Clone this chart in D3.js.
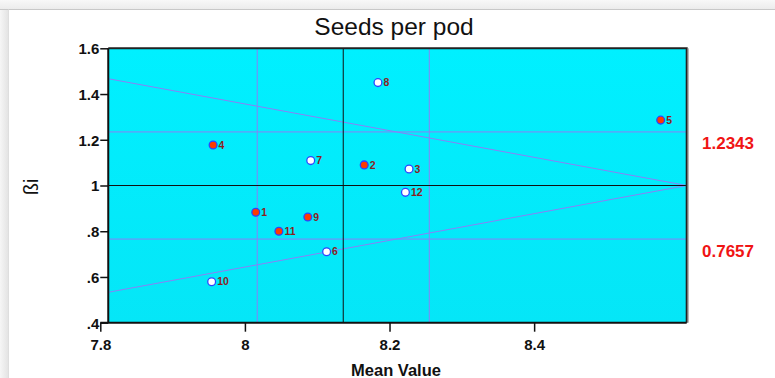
<!DOCTYPE html>
<html>
<head>
<meta charset="utf-8">
<script src="https://cdn.jsdelivr.net/npm/d3@7"></script>
<style>
  html, body { margin: 0; padding: 0; background: #fff; }
  svg { display: block; }
</style>
</head>
<body>
<svg id="chart" width="775" height="378"></svg>
<script>
// Stability plot: genotype mean vs regression coefficient (ßi)
const genotypes   = ["1", "2", "3", "4", "5", "6", "7", "8", "9", "10", "11", "12"];
const meanValues  = [8.015, 8.165, 8.227, 7.956, 8.575, 8.113, 8.091, 8.184, 8.087, 7.954, 8.047, 8.222];
const betaValues  = [0.883, 1.090, 1.072, 1.177, 1.286, 0.710, 1.109, 1.450, 0.862, 0.579, 0.800, 0.970];
const filledFlags = [true, true, false, true, true, false, false, false, true, false, true, false];

const xTicks = [7.8, 8, 8.2, 8.4];
const xTickLabels = ["7.8", "8", "8.2", "8.4"];
const yTicks = [0.4, 0.6, 0.8, 1, 1.2, 1.4, 1.6];
const yTickLabels = [".4", ".6", ".8", "1", "1.2", "1.4", "1.6"];

const fieldX = [7.811, 8.611];          // x extent of the shaded field
const fieldY = [0.4, 1.6];              // y extent of the shaded field
const grandMean = 8.136;
const meanLimits = [8.017, 8.255];
const betaUnit = 1;
const betaLimits = [1.2343, 0.7657];
const betaLimitLabels = ["1.2343", "0.7657"];
const fanLines = [
  [[7.811, 1.467], [8.611, 1.0]],
  [[7.811, 0.533], [8.611, 1.0]]
];

const titleText = "Seeds per pod";
const xTitle = "Mean Value";
const yTitle = "ßi";

const svg = d3.select("#chart");
const W = 775, H = 378;
const FONT = "Liberation Sans, Arial, sans-serif";

const x = d3.scaleLinear().domain([7.8, 8.611]).range([100.3, 686.7]);
const y = d3.scaleLinear().domain([0.4, 1.6]).range([322.7, 48.3]);

// window chrome: top bar and left shadow strip
const defs = svg.append("defs");
const gTop = defs.append("linearGradient").attr("id", "topbar").attr("x1", 0).attr("y1", 0).attr("x2", 0).attr("y2", 1);
gTop.append("stop").attr("offset", "0%").attr("stop-color", "#f8f8f8");
gTop.append("stop").attr("offset", "100%").attr("stop-color", "#ececec");
const gLeft = defs.append("linearGradient").attr("id", "leftbar").attr("x1", 0).attr("y1", 0).attr("x2", 1).attr("y2", 0);
gLeft.append("stop").attr("offset", "0%").attr("stop-color", "#f6f6f6");
gLeft.append("stop").attr("offset", "100%").attr("stop-color", "#e4e4e4");
const gField = defs.append("linearGradient").attr("id", "field").attr("x1", 0).attr("y1", 0).attr("x2", 0).attr("y2", 1);
gField.append("stop").attr("offset", "0%").attr("stop-color", "#00f0ff");
gField.append("stop").attr("offset", "100%").attr("stop-color", "#05e6f7");

svg.append("rect").attr("x", 0).attr("y", 0).attr("width", W).attr("height", H).attr("fill", "#fff");
svg.append("rect").attr("x", 0).attr("y", 0).attr("width", W).attr("height", 9).attr("fill", "url(#topbar)");
svg.append("rect").attr("x", 0).attr("y", 9).attr("width", 8).attr("height", H - 9).attr("fill", "url(#leftbar)");
svg.append("line").attr("x1", 0).attr("x2", W).attr("y1", 9.5).attr("y2", 9.5).attr("stroke", "#c8c8c8");
svg.append("line").attr("x1", 8.5).attr("x2", 8.5).attr("y1", 9.5).attr("y2", H).attr("stroke", "#dedede");

// shaded field
const fx0 = x(fieldX[0]), fx1 = x(fieldX[1]);
const fy0 = y(fieldY[1]), fy1 = y(fieldY[0]);
svg.append("rect")
  .attr("x", fx0).attr("y", fy0)
  .attr("width", fx1 - fx0).attr("height", fy1 - fy0)
  .attr("fill", "url(#field)");

const refColor = "#8a80f6";

// fan lines
const line = d3.line().x(d => x(d[0])).y(d => y(d[1]));
svg.selectAll("path.fan").data(fanLines).enter().append("path")
  .attr("class", "fan")
  .attr("d", line)
  .attr("fill", "none")
  .attr("stroke", refColor)
  .attr("stroke-width", 1);

// ßi limit lines
svg.selectAll("line.hlim").data(betaLimits).enter().append("line")
  .attr("x1", fx0).attr("x2", fx1)
  .attr("y1", d => y(d)).attr("y2", d => y(d))
  .attr("stroke", refColor).attr("stroke-width", 1);

// mean limit lines
svg.selectAll("line.vlim").data(meanLimits).enter().append("line")
  .attr("x1", d => x(d)).attr("x2", d => x(d))
  .attr("y1", fy0).attr("y2", fy1)
  .attr("stroke", refColor).attr("stroke-width", 1);

// grand mean and ß = 1
svg.append("line")
  .attr("x1", x(grandMean)).attr("x2", x(grandMean))
  .attr("y1", fy0).attr("y2", fy1)
  .attr("stroke", "#111").attr("stroke-width", 1);
svg.append("line")
  .attr("x1", fx0).attr("x2", fx1)
  .attr("y1", y(betaUnit)).attr("y2", y(betaUnit))
  .attr("stroke", "#111").attr("stroke-width", 1);

// frame
svg.append("path")
  .attr("d", `M${fx0},${fy0}H${fx1}V${fy1}`)
  .attr("fill", "none").attr("stroke", "#222").attr("stroke-width", 2);
svg.append("line")
  .attr("x1", fx1 + 1.5).attr("x2", fx1 + 1.5).attr("y1", fy0).attr("y2", fy1)
  .attr("stroke", "#9a9a9a").attr("stroke-width", 1);

// axes
const xAxis = d3.axisBottom(x).tickValues(xTicks).tickSize(9).tickPadding(8)
  .tickFormat((d, i) => xTickLabels[i]);
const gx = svg.append("g").attr("transform", `translate(0,${y(0.4)})`).call(xAxis);
gx.select(".domain").attr("d", `M${x(7.8)},0H${fx1}`).attr("stroke", "#111").attr("stroke-width", 2);
gx.selectAll(".tick line").attr("stroke", "#111").attr("stroke-width", 1.5);
gx.selectAll(".tick text")
  .attr("font-family", FONT)
  .attr("font-size", 15).attr("font-weight", "bold").attr("fill", "#111")
  .attr("dy", "0.72em");

const yAxis = d3.axisLeft(y).tickValues(yTicks).tickSize(8).tickPadding(1)
  .tickFormat((d, i) => yTickLabels[i]);
const gy = svg.append("g").attr("transform", `translate(${fx0},0)`).call(yAxis);
gy.select(".domain").attr("d", `M0,${fy0}V${fy1}`).attr("stroke", "#111").attr("stroke-width", 2);
gy.selectAll(".tick line").attr("stroke", "#111").attr("stroke-width", 1.5);
gy.selectAll(".tick text")
  .attr("font-family", FONT)
  .attr("font-size", 15).attr("font-weight", "bold").attr("fill", "#111")
  .attr("dy", "0.36em");

// points
const pts = genotypes.map((g, i) => ({ g, m: meanValues[i], b: betaValues[i], f: filledFlags[i] }));
svg.selectAll("circle.pt").data(pts).enter().append("circle")
  .attr("cx", d => x(d.m)).attr("cy", d => y(d.b)).attr("r", 3.9)
  .attr("fill", d => d.f ? "#ff3a00" : "#ffffff")
  .attr("stroke", "#2a46ff").attr("stroke-width", 1.3);
svg.selectAll("text.pl").data(pts).enter().append("text")
  .attr("x", d => x(d.m) + 5.5).attr("y", d => y(d.b) + 3.6)
  .attr("font-family", FONT)
  .attr("font-size", 10.5).attr("font-weight", "bold").attr("fill", "#8a1f1f")
  .text(d => d.g);

// limit values at right
svg.selectAll("text.lim").data(betaLimits).enter().append("text")
  .attr("x", 702).attr("y", d => y(d) + 17.5)
  .attr("font-family", FONT)
  .attr("font-size", 17).attr("font-weight", "bold").attr("fill", "#f01414")
  .text((d, i) => betaLimitLabels[i]);

// titles
svg.append("text")
  .attr("x", 394).attr("y", 35)
  .attr("text-anchor", "middle")
  .attr("font-family", FONT)
  .attr("font-size", 24.5).attr("fill", "#111")
  .text(titleText);
svg.append("text")
  .attr("x", 396).attr("y", 375.5)
  .attr("text-anchor", "middle")
  .attr("font-family", FONT)
  .attr("font-size", 16.5).attr("font-weight", "bold").attr("fill", "#111")
  .text(xTitle);
svg.append("text")
  .attr("transform", `translate(38,187) rotate(-90)`)
  .attr("text-anchor", "middle")
  .attr("font-family", FONT)
  .attr("font-size", 20).attr("fill", "#111")
  .text(yTitle);
</script>
</body>
</html>
